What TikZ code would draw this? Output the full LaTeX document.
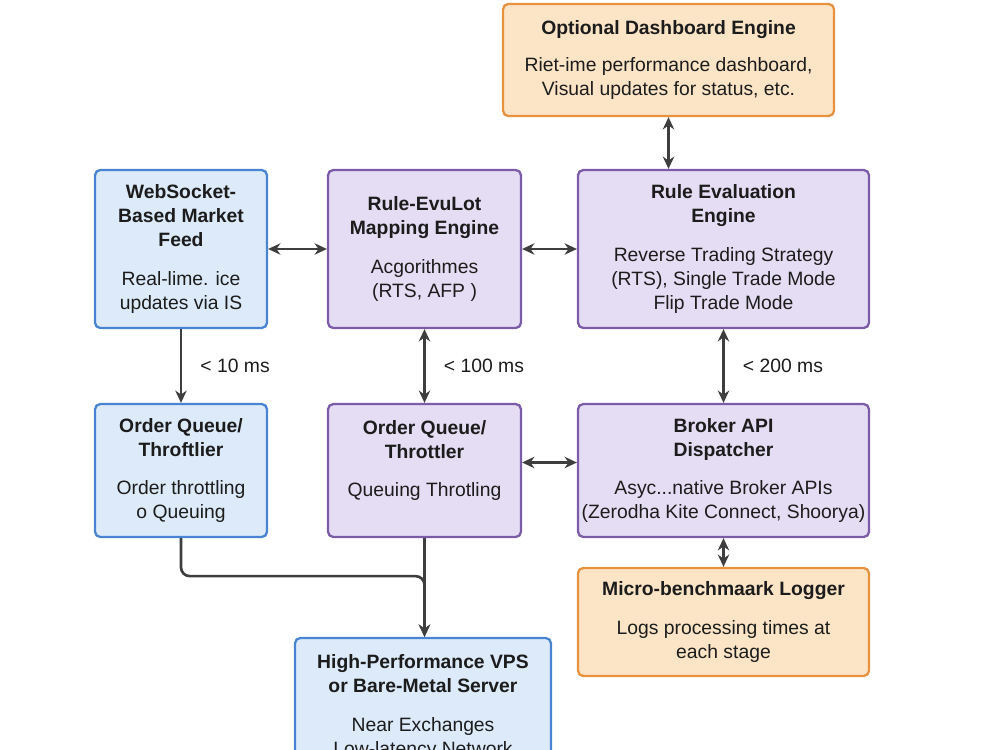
\documentclass[tikz,border=0pt]{standalone}
\usepackage{fontspec}
\setmainfont{Liberation Sans}
\usepackage{xcolor}
\usetikzlibrary{arrows.meta}
\definecolor{feedfill}{RGB}{220,234,250}
\definecolor{feedline}{RGB}{72,132,210}
\definecolor{blockfill}{RGB}{229,221,243}
\definecolor{blockline}{RGB}{124,92,168}
\definecolor{extrafill}{RGB}{252,229,199}
\definecolor{extraline}{RGB}{231,146,62}
\definecolor{arrowgray}{RGB}{62,62,62}
\definecolor{textdark}{RGB}{28,28,28}

\begin{document}
\begin{tikzpicture}[
    x=0.02cm, y=-0.02cm,
    box/.style={rectangle, draw, rounded corners=3pt, line width=1.3pt, align=center, inner xsep=1pt, inner ysep=3pt, font=\fontsize{11}{13.8}\selectfont, text=textdark},
    feedbox/.style={box, fill=feedfill, draw=feedline},
    block/.style={box, fill=blockfill, draw=blockline},
    extra/.style={box, fill=extrafill, draw=extraline},
    link/.style={line width=1.5pt, <->, >={Stealth[length=7pt, width=6.5pt]}, color=arrowgray},
    flow/.style={line width=1.5pt, ->, >={Stealth[length=7pt, width=6.5pt]}, color=arrowgray},
    lat/.style={right=7pt, font=\fontsize{11}{12}\selectfont, text=textdark}
]
\useasboundingbox (0,0) rectangle (1000,750);

% Gorny rzad
\node [extra, minimum width=331*0.02cm, minimum height=112*0.02cm] (dashboard) at (668.5, 60) {\textbf{Optional Dashboard Engine} \\[7pt] Riet-ime performance dashboard, \\ Visual updates for status, etc.};
\node [feedbox, minimum width=172*0.02cm, minimum height=158*0.02cm] (feed) at (181, 249) {\textbf{WebSocket-} \\ \textbf{Based Market} \\ \textbf{Feed} \\[8pt] Real-lime. ice \\ updates via IS};
\node [block, minimum width=193*0.02cm, minimum height=158*0.02cm] (mapping) at (424.5, 249) {\textbf{Rule-EvuLot} \\ \textbf{Mapping Engine} \\[8pt] Acgorithmes \\ (RTS, AFP )};
\node [block, minimum width=291*0.02cm, minimum height=158*0.02cm] (evaluation) at (723.5, 249) {\textbf{Rule Evaluation} \\ \textbf{Engine} \\[8pt] Reverse Trading Strategy \\ (RTS), Single Trade Mode \\ Flip Trade Mode};

% Srodkowy rzad
\node [feedbox, minimum width=172*0.02cm, minimum height=133*0.02cm] (queue) at (181, 470.5) {\textbf{Order Queue/} \\ \textbf{Throftlier} \\[8pt] Order throttling \\ o Queuing};
\node [block, minimum width=193*0.02cm, minimum height=133*0.02cm] (throttler) at (424.5, 470.5) {\textbf{Order Queue/} \\ \textbf{Throttler} \\[8pt] Queuing Throtling \\ ~};
\node [block, minimum width=291*0.02cm, minimum height=133*0.02cm] (dispatcher) at (723.5, 470.5) {\textbf{Broker API} \\ \textbf{Dispatcher} \\[8pt] Asyc...native Broker APIs \\ (Zerodha Kite Connect, Shoorya)};

% Dolny rzad
\node [extra, minimum width=291*0.02cm, minimum height=108*0.02cm] (logger) at (723.5, 622) {\textbf{Micro-benchmaark Logger} \\[8pt] Logs processing times at \\ each stage};
\node [feedbox, minimum width=256*0.02cm, minimum height=138*0.02cm] (server) at (423, 707) {\textbf{High-Performance VPS} \\ \textbf{or Bare-Metal Server} \\[8pt] Near Exchanges \\ Low-latency Network};

% Polaczenia
\draw [link] (feed) -- (mapping);
\draw [link] (mapping) -- (evaluation);
\draw [link] (dashboard.south) -- (dashboard.south |- evaluation.north);
\draw [flow] (feed) -- node[lat] {< 10 ms} (queue);
\draw [link] (mapping) -- node[lat] {< 100 ms} (throttler);
\draw [link] (evaluation) -- node[lat] {< 200 ms} (dispatcher);
\draw [link] ([yshift=0.16cm]throttler.east) -- ([yshift=0.16cm]dispatcher.west);
\draw [link] (dispatcher) -- (logger);

\coordinate (merge) at (throttler.south |- server.north);
\draw [flow, rounded corners=5pt] (queue.south) -- ++(0,38) -| (merge);
\draw [flow] (throttler.south) -- (merge);

\end{tikzpicture}
\end{document}
